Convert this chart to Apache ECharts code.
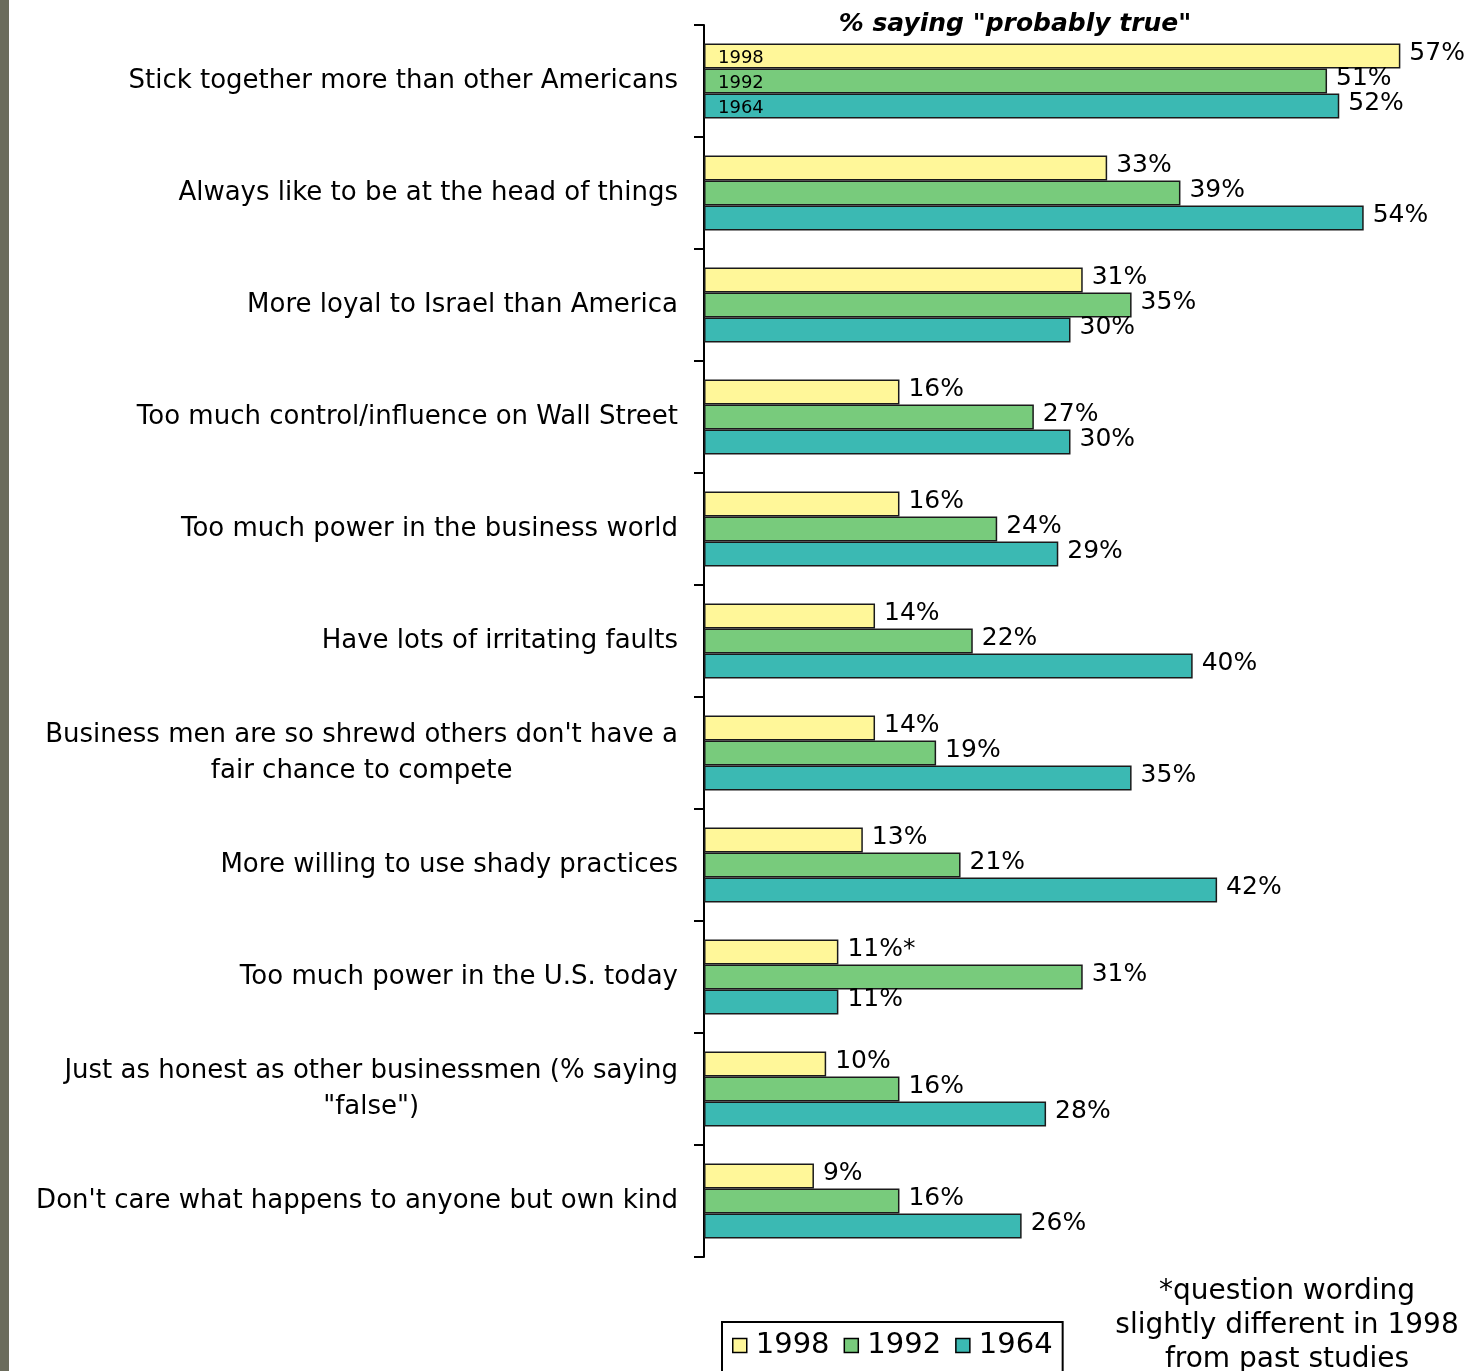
<!DOCTYPE html>
<html>
<head>
<meta charset="utf-8">
<script src="https://cdn.jsdelivr.net/npm/echarts@6/dist/echarts.min.js"></script>
<style>
html,body{margin:0;padding:0;background:#fff;}
#strip{position:absolute;left:0;top:0;width:9px;height:1371px;background:#6b6c5c;z-index:2;}
#chart{width:1476px;height:1371px;}
</style>
</head>
<body>
<div id="strip"></div>
<div id="chart"></div>
<script>
const categories = [
  'Stick together more than other Americans',
  'Always like to be at the head of things',
  'More loyal to Israel than America',
  'Too much control/influence on Wall Street',
  'Too much power in the business world',
  'Have lots of irritating faults',
  "Business men are so shrewd others don't have a\nfair chance to compete",
  'More willing to use shady practices',
  'Too much power in the U.S. today',
  'Just as honest as other businessmen (% saying\n"false")',
  "Don't care what happens to anyone but own kind"
];
const years = ['1998', '1992', '1964'];
const values1998 = [57, 33, 31, 16, 16, 14, 14, 13, 11, 10, 9];
const values1992 = [51, 39, 35, 27, 24, 22, 19, 21, 31, 16, 16];
const values1964 = [52, 54, 30, 30, 29, 40, 35, 42, 11, 28, 26];
const notes1998 = ['', '', '', '', '', '', '', '', '*', '', ''];
const noNotes = ['', '', '', '', '', '', '', '', '', '', ''];
const colors = ['#fff799', '#78cb7c', '#3bb9b3'];
const titleText = '% saying "probably true"';
const footnoteText = '*question wording\nslightly different in 1998\nfrom past studies';

const seriesValues = [values1998, values1992, values1964];
const seriesNotes = [notes1998, noNotes, noNotes];

const series = [];
years.forEach((yr, i) => {
  // zero-length base bar that carries the in-bar year tag on the first category
  series.push({
    type: 'bar',
    name: yr + ' tag',
    stack: 's' + yr,
    barWidth: 25,
    barGap: '0%',
    silent: true,
    data: seriesValues[i].map(() => 0),
    itemStyle: { color: 'rgba(0,0,0,0)', borderWidth: 0 },
    label: {
      show: true,
      position: 'right',
      distance: 14,
      offset: [0, 2],
      fontFamily: 'DejaVu Sans',
      fontSize: 18,
      color: '#000',
      formatter: p => p.dataIndex === 0 ? yr : ''
    },
    z: 5
  });
  series.push({
    type: 'bar',
    name: yr,
    stack: 's' + yr,
    barWidth: 25,
    barGap: '0%',
    data: seriesValues[i],
    itemStyle: { color: colors[i], borderColor: '#1a1a1a', borderWidth: 1.5 },
    label: {
      show: true,
      position: 'right',
      distance: 9,
      offset: [0, -3],
      fontFamily: 'DejaVu Sans',
      fontSize: 25,
      color: '#000',
      formatter: p => p.value + '%' + seriesNotes[i][p.dataIndex]
    }
  });
});

const chart = echarts.init(document.getElementById('chart'), null, { renderer: 'canvas' });
chart.setOption({
  animation: false,
  backgroundColor: '#fff',
  title: [
    {
      text: titleText,
      left: 1010,
      top: 7,
      textAlign: 'center',
      textStyle: { fontFamily: 'DejaVu Sans', fontSize: 25, fontWeight: 'bold', fontStyle: 'italic', color: '#000' }
    },
    {
      text: footnoteText,
      left: 1282,
      top: 1270,
      textAlign: 'center',
      textStyle: { fontFamily: 'DejaVu Sans', fontSize: 28, fontWeight: 'normal', color: '#000', lineHeight: 34 }
    }
  ],
  legend: {
    data: years,
    left: 722,
    top: 1322,
    orient: 'horizontal',
    icon: 'rect',
    itemWidth: 14,
    itemHeight: 14,
    itemGap: 14,
    borderColor: '#000',
    borderWidth: 2,
    padding: [9, 10, 20, 10],
    itemStyle: { borderColor: '#000', borderWidth: 1.5 },
    textStyle: { fontFamily: 'DejaVu Sans', fontSize: 29, color: '#000', padding: [0, 0, 0, 4] }
  },
  grid: { left: 704, top: 25, height: 1232, width: 733, containLabel: false },
  xAxis: {
    type: 'value',
    min: 0,
    max: 60,
    show: false
  },
  yAxis: {
    type: 'category',
    inverse: true,
    data: categories,
    axisLine: { show: true, lineStyle: { color: '#000', width: 2 } },
    axisTick: { show: true, length: 10, lineStyle: { color: '#000', width: 2 } },
    splitLine: { show: false },
    axisLabel: {
      margin: 26,
      fontFamily: 'DejaVu Sans',
      fontSize: 26,
      color: '#000',
      lineHeight: 36,
      formatter: v => v.split('\n').map(s => '{c|' + s + '}').join('\n'),
      rich: { c: { align: 'center', fontFamily: 'DejaVu Sans', fontSize: 26, color: '#000', lineHeight: 36 } }
    }
  },
  series: series
});
</script>
</body>
</html>
